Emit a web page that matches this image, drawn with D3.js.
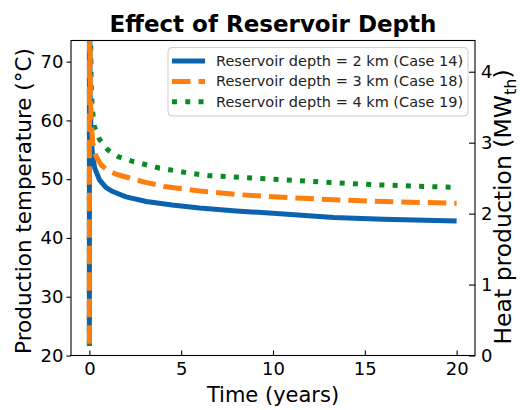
<!DOCTYPE html>
<html>
<head>
<meta charset="utf-8">
<script src="https://cdn.jsdelivr.net/npm/d3@7"></script>
<style>
  body { margin: 0; background: #fff; }
  text { font-family: "DejaVu Sans", sans-serif; }
</style>
</head>
<body>
<div id="chart"></div>
<script>
// values (time in years, temperature in degC)
var timeBlue   = [0, 0.005, 0.04, 0.1, 0.18, 0.3, 0.55, 0.9, 1.27, 2, 3.1, 4.5, 6, 8, 10, 13.3, 16, 20];
var tempBlue   = [22, 90, 64, 57, 53.8, 51.8, 49.9, 48.6, 47.9, 47.0, 46.2, 45.6, 45.1, 44.6, 44.2, 43.5, 43.2, 42.9];

var timeOrange = [0, 0.005, 0.05, 0.1, 0.18, 0.35, 0.64, 1, 1.5, 2.2, 3, 4.2, 6, 8, 10, 13.3, 16, 20];
var tempOrange = [22, 90, 66, 60, 56.2, 54, 52.4, 51.5, 50.8, 50.2, 49.5, 48.7, 48.0, 47.4, 47.0, 46.5, 46.2, 45.9];

var timeGreen  = [0, 0.005, 0.1, 0.16, 0.27, 0.55, 1, 1.6, 2.4, 3.8, 5.3, 6.5, 10, 13.3, 16, 20];
var tempGreen  = [21.6, 90, 66, 62, 59, 56.8, 55, 53.8, 53, 51.9, 51.1, 50.6, 50.0, 49.4, 49.0, 48.6];

var seriesNames = ["Reservoir depth = 2 km (Case 14)",
                   "Reservoir depth = 3 km (Case 18)",
                   "Reservoir depth = 4 km (Case 19)"];

var xTicks = [0, 5, 10, 15, 20];
var yTicks = [20, 30, 40, 50, 60, 70];
var yRightTicks = [0, 1, 2, 3, 4];

var W = 520, H = 410;
// plot box ("top" is taken by window.top, so other names here)
var pL = 71, pR = 475, pT = 40.5, pB = 355.5;

var x = d3.scaleLinear().domain([-1, 21]).range([pL, pR]);
var y = d3.scaleLinear().domain([20, 73.6]).range([pB, pT]);
var yR = d3.scaleLinear().domain([0, 4.44]).range([pB, pT]);

var svg = d3.select("#chart").append("svg")
    .attr("width", W)
    .attr("height", H);

svg.append("defs").append("clipPath")
    .attr("id", "plotclip")
  .append("rect")
    .attr("x", pL).attr("y", pT)
    .attr("width", pR - pL).attr("height", pB - pT);

// lines (green under blue under orange, like the picture)
var line = d3.line()
    .x(function(d) { return x(d[0]); })
    .y(function(d) { return y(d[1]); });

var series = [
  {name: seriesNames[0], data: d3.zip(timeBlue, tempBlue), color: "#0b62ae", dash: null},
  {name: seriesNames[1], data: d3.zip(timeOrange, tempOrange), color: "#ff7f0e", dash: "18.5,8"},
  {name: seriesNames[2], data: d3.zip(timeGreen, tempGreen), color: "#0a8a23", dash: "5,8.25"}
];

var plot = svg.append("g").attr("clip-path", "url(#plotclip)");

[series[2], series[0], series[1]].forEach(function(s) {
  plot.append("path")
      .attr("d", line(s.data))
      .attr("fill", "none")
      .attr("stroke", s.color)
      .attr("stroke-width", 5)
      .attr("stroke-linejoin", "round")
      .attr("stroke-dasharray", s.dash);
});

// axes
var gx = svg.append("g")
    .attr("transform", "translate(0," + pB + ")")
    .call(d3.axisBottom(x).tickValues(xTicks).tickSize(-5).tickPadding(7));

var gy = svg.append("g")
    .attr("transform", "translate(" + pL + ",0)")
    .call(d3.axisLeft(y).tickValues(yTicks).tickSize(4.5).tickPadding(3));

var gr = svg.append("g")
    .attr("transform", "translate(" + pR + ",0)")
    .call(d3.axisRight(yR).tickValues(yRightTicks).tickFormat(d3.format("d"))
      .tickSize(-6).tickPadding(6));

[gx, gy, gr].forEach(function(g) {
  g.select(".domain").remove();
  g.selectAll(".tick line").attr("stroke", "#000").attr("stroke-width", 1.1);
  g.selectAll(".tick text")
      .attr("fill", "#000")
      .style("font-size", "18px")
      .style("font-family", "'DejaVu Sans', sans-serif");
});

svg.append("rect")
    .attr("x", pL).attr("y", pT)
    .attr("width", pR - pL).attr("height", pB - pT)
    .attr("fill", "none")
    .attr("stroke", "#000")
    .attr("stroke-width", 1.1);

// legend
var lg = svg.append("g");
lg.append("rect")
    .attr("x", 168).attr("y", 47.5)
    .attr("width", 300).attr("height", 68.5)
    .attr("rx", 4)
    .attr("fill", "#fff").attr("fill-opacity", 0.8)
    .attr("stroke", "#cccccc");

series.forEach(function(s, i) {
  var cy = 61 + i * 20.4;
  lg.append("line")
      .attr("x1", 172).attr("x2", 205)
      .attr("y1", cy).attr("y2", cy)
      .attr("stroke", s.color)
      .attr("stroke-width", 5)
      .attr("stroke-dasharray", s.dash);
  lg.append("text")
      .attr("x", 216).attr("y", cy)
      .attr("dy", "0.35em")
      .style("font-size", "14.5px")
      .attr("fill", "#222")
      .text(s.name);
});

// titles
svg.append("text")
    .attr("x", (pL + pR) / 2).attr("y", 32)
    .attr("text-anchor", "middle")
    .style("font-size", "23px")
    .style("font-weight", "bold")
    .text("Effect of Reservoir Depth");

svg.append("text")
    .attr("x", (pL + pR) / 2).attr("y", 402)
    .attr("text-anchor", "middle")
    .style("font-size", "21px")
    .text("Time (years)");

svg.append("text")
    .attr("transform", "translate(31,201) rotate(-90)")
    .attr("text-anchor", "middle")
    .style("font-size", "21.5px")
    .text("Production temperature (°C)");

var rl = svg.append("text")
    .attr("transform", "translate(511,207) rotate(-90)")
    .attr("text-anchor", "middle")
    .style("font-size", "23.5px");
rl.append("tspan").text("Heat production (MW");
rl.append("tspan").attr("dy", 4.5).style("font-size", "16px").text("th");
rl.append("tspan").attr("dy", -4.5).text(")");
</script>
</body>
</html>
